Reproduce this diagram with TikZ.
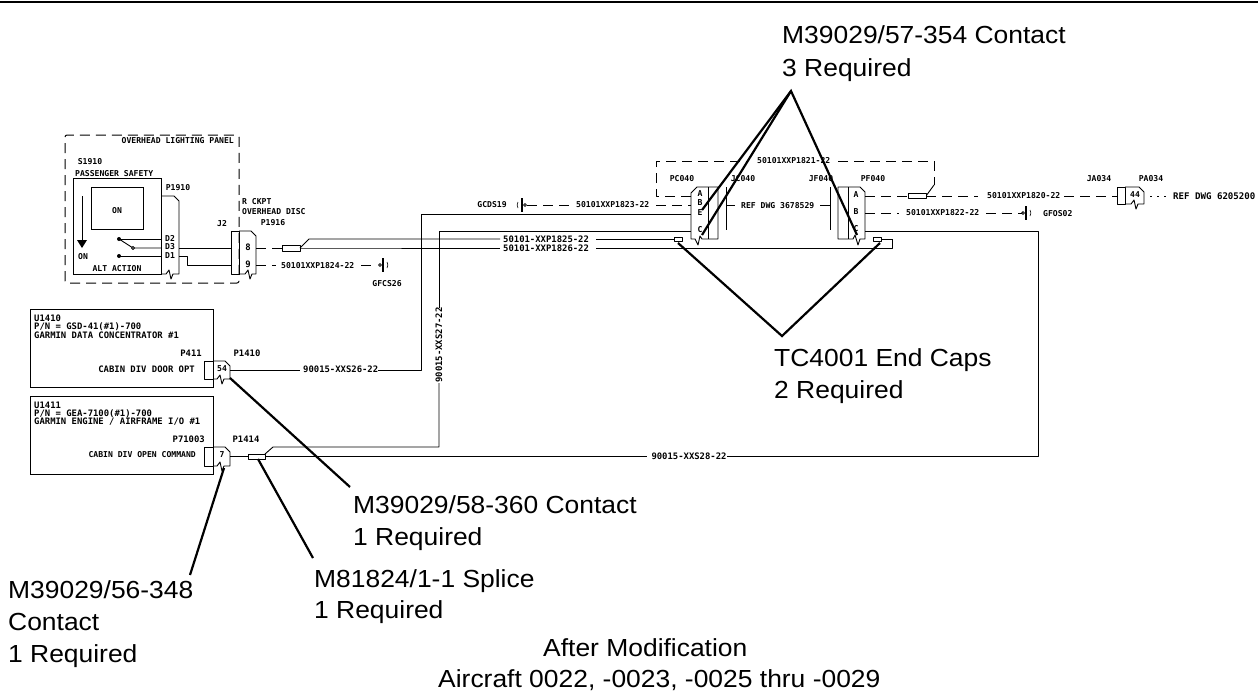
\documentclass[tikz,border=0pt]{standalone}
\usepackage{fontspec}
\setmainfont{Liberation Sans}
\newfontfamily\cadfont{DejaVu Sans Mono}
\newfontfamily\bigfont[FakeStretch=1.07]{Liberation Sans}
\tikzset{
  wire/.style={draw=black,line width=0.9pt,line join=round},
  dwire/.style={wire,line width=1pt,dash pattern=on 10pt off 6pt},
  frame/.style={draw=black,line width=0.9pt},
  callout/.style={draw=black,line width=2.2pt},
  big/.style={anchor=base west,inner sep=0pt,font=\bigfont\fontsize{24.7}{28}\selectfont},
  cad/.style={inner sep=0pt,font=\cadfont\bfseries\fontsize{8.1}{9}\selectfont},
  cadl/.style={inner sep=0pt,font=\cadfont\bfseries\fontsize{8.9}{10}\selectfont},
  cadx/.style={inner sep=0pt,font=\cadfont\bfseries\fontsize{9.1}{10}\selectfont},
}
\newcommand{\gndR}[2]{
  \draw[wire] (#1,#2) circle (1.4pt);
  \draw[line width=1.8pt] (#1+3,#2-7) -- (#1+3,#2+7);
  \draw[wire,line width=0.6pt] (#1+7,#2-3) to[bend left=30] (#1+7,#2+3);
}
\newcommand{\gndL}[2]{
  \draw[wire] (#1,#2) circle (1.4pt);
  \draw[line width=1.8pt] (#1-3,#2-7) -- (#1-3,#2+7);
  \draw[wire,line width=0.6pt] (#1-7,#2-3) to[bend right=30] (#1-7,#2+3);
}
\newcommand{\plugR}[5]{
  \draw[wire] (#1,#3) -- (#2-5,#3) -- (#2,#3+5) -- (#2,#4) -- (#5+7,#4) -- (#5+5,#4+5) -- (#5+3,#4-4) -- (#5,#4) -- (#1,#4);
}
\begin{document}
\begin{tikzpicture}[x=1pt,y=-1pt]
\useasboundingbox (0,0) rectangle (1258,694);
\fill[white] (0,0) rectangle (1258,694);
\draw[line width=2pt] (0,2) -- (1258,2);

%% ---- coordinates of wire ends
\coordinate (sD2) at (119,239); \coordinate (sD3) at (133,248); \coordinate (sD1) at (119,256);
\coordinate (pD2) at (161,239); \coordinate (pD3) at (161,248); \coordinate (pD1) at (161,256);
\coordinate (oD3) at (179,248); \coordinate (oD1) at (179,256);
\coordinate (j2a) at (231,248); \coordinate (j2b) at (231,265);
\coordinate (p8) at (256,248); \coordinate (p9) at (256,265);
\coordinate (spA) at (282,248); \coordinate (spAr) at (300,248);
\coordinate (capL1) at (674,239); \coordinate (capR) at (892,239);
\coordinate (apexT) at (791,91); \coordinate (apexC) at (782,336);
\coordinate (pinE) at (702,210); \coordinate (pinCl) at (702,235); \coordinate (pinCr) at (857,235);
\coordinate (tipCapL) at (678,243); \coordinate (tipCapR) at (880,243);

%% ---- overhead lighting panel
\draw[dwire,rounded corners=2pt] (65,283) -- (65,135) -- (239,135) -- (239,283) -- cycle;
\node[cad,anchor=east] (olp) at (234,141) {OVERHEAD LIGHTING PANEL};
\node[cad] (s1910) at (90,162) {S1910};
\node[cad,anchor=west] (pss) at (75,174) {PASSENGER SAFETY};
\draw[frame] (73,178) rectangle (161,274);
\draw[frame] (91,187) rectangle (143,229);
\node[cad] (onA) at (117,211) {ON};
\draw[wire] (82,196) -- (82,240);
\fill (77,240) -- (87,240) -- (82,248) -- cycle;
\node[cad] (onB) at (83,257) {ON};
\node[cad] (alt) at (117,269) {ALT ACTION};
\node[cad] (p1910) at (178,188) {P1910};
\plugR{161}{179}{196}{274}{166}
\node[cad] at (170,238) {D2};
\node[cad] at (170,247) {D3};
\node[cad] at (170,256) {D1};
\fill (sD2) circle (2pt); \fill (sD1) circle (2pt);
\draw[wire] (sD2) -- (pD2);
\draw[wire] (sD2) -- (sD3) -- (pD3);
\draw[wire] (sD1) -- (pD1);
\filldraw[fill=white,wire] (sD3) circle (1.6pt);
\draw[wire] (oD3) -- (j2a);
\draw[wire] (oD1) -- (187,256) -- (187,265) -- (j2b);

%% ---- J2 / P1916
\draw[wire] (231,231) rectangle (239,274);
\plugR{239}{256}{231}{274}{245}
\node[cad] (j2) at (222,224) {J2};
\node[cad,anchor=west] (rck) at (242,202) {R CKPT};
\node[cad,anchor=west] (odi) at (242,212) {OVERHEAD DISC};
\node[cad] (p1916) at (273,223) {P1916};
\node[cadl] at (248,247) {8};
\node[cadl] at (248,264) {9};
\draw[dwire] (p8) -- (spA);
\draw[wire,fill=white] (282,245) rectangle (300,251);
\draw[dwire] (p9) -- (276,265);
\node[cad,anchor=west] (w1824) at (281,266) {50101XXP1824-22};
\draw[dwire] (361,265) -- (377,265);
\gndR{380}{265}
\node[cad] (gfcs) at (387,284) {GFCS26};

%% ---- long wires from the splice
\draw[wire] (spAr) -- (309,239) -- (500,239);
\draw[wire] (spAr) -- (305,248) -- (500,248);
\node[cadl,anchor=west] (w1825) at (503,239) {50101-XXP1825-22};
\node[cadl,anchor=west] (w1826) at (503,248) {50101-XXP1826-22};
\draw[wire] (596,239) -- (capL1);
\draw[wire] (596,248) -- (892,248) -- (capR);
\draw[wire] (674,237) rectangle (682,241);
\draw[wire] (873,237) rectangle (881,241);
\draw[wire] (881,239) -- (capR);

%% ---- U1410
\draw[frame] (30,309) rectangle (213,387);
\node[cadl,anchor=west] (u1410) at (34,318) {U1410};
\node[cadl,anchor=west] (pn1) at (34,326.5) {P/N = GSD-41(\#1)-700};
\node[cadl,anchor=west] (gdc) at (34,335) {GARMIN DATA CONCENTRATOR \#1};
\node[cadl,anchor=east] (p411) at (202,353) {P411};
\node[cadl] (p1410) at (247,353) {P1410};
\node[cadl,anchor=east] (cddo) at (195,369) {CABIN DIV DOOR OPT};
\draw[wire] (204,361) rectangle (213,379);
\plugR{213}{230}{361}{379}{217}
\node[cad] at (222,369) {54};
\draw[wire] (230,370) -- (300,370);
\node[cadl,anchor=west] (w26) at (303,369) {90015-XXS26-22};
\draw[wire] (378,370) -- (421,370) -- (421,214) -- (691,214);

%% ---- U1411
\draw[frame] (30,396) rectangle (213,474);
\node[cadl,anchor=west] (u1411) at (34,405) {U1411};
\node[cadl,anchor=west] (pn2) at (34,413.5) {P/N = GEA-7100(\#1)-700};
\node[cadl,anchor=west] (geg) at (34,422) {GARMIN ENGINE / AIRFRAME I/O \#1};
\node[cadl,anchor=east] (p71) at (205,439) {P71003};
\node[cadl] (p1414) at (246,439) {P1414};
\node[cad,anchor=east] (cdoc) at (196,455) {CABIN DIV OPEN COMMAND};
\draw[wire] (204,447) rectangle (213,466);
\plugR{213}{230}{447}{466}{217}
\node[cad] at (222,455) {7};
\draw[wire] (230,456) -- (248,456);
\draw[wire,fill=white] (248,454) rectangle (265,459);
\draw[wire] (265,456) -- (647,456);
\node[cadl] (w28) at (689,456) {90015-XXS28-22};
\draw[wire] (727,456) -- (1038,456) -- (1038,231) -- (865,231);
\draw[wire] (265,454) -- (273,447) -- (439,447) -- (439,383);
\node[cadl,rotate=90] (w27) at (439,345) {90015-XXS27-22};
\draw[wire] (439,308) -- (439,231) -- (691,231);

%% ---- PC040 / JC040
\draw[dwire] (691,196) -- (656,196) -- (656,161) -- (747,161);
\node[cad,anchor=west] (w1821) at (757,161) {50101XXP1821-22};
\draw[dwire] (838,161) -- (934,161) -- (934,185);
\draw[wire] (934,185) -- (926,196);
\node[cad] (pc040) at (682,179) {PC040};
\node[cad] (jc040) at (743,179) {JC040};
\node[cad] (jf040) at (821,179) {JF040};
\node[cad] (pf040) at (873,179) {PF040};
\draw[wire] (691,193) -- (697,187) -- (718,187) -- (718,239) -- (702,239) -- (700,236) -- (698,245) -- (695,239) -- (691,239) -- cycle;
\draw[wire] (708,187) -- (708,239);
\node[cad] at (700,194) {A};
\node[cad] at (700,203) {B};
\node[cad] at (700,213) {E};
\node[cad] at (700,230) {C};
\draw[wire] (726,187) -- (726,230);
\draw[wire] (726,205) -- (735,205);
\node[cad,anchor=west] (ref1) at (741,206) {REF DWG 3678529};
\draw[wire] (820,205) -- (830,205);
\draw[wire] (830,187) -- (830,230);
\draw[wire] (838,187) -- (860,187) -- (865,192) -- (865,239) -- (860,239) -- (858,245) -- (855,235) -- (853,239) -- (838,239) -- cycle;
\draw[wire] (848,187) -- (848,239);
\node[cad] at (856,195) {A};
\node[cad] at (856,212) {B};
\node[cad] at (856,229) {C};
\node[cad] (gcds) at (492,205) {GCDS19};
\gndL{525}{205}
\draw[dwire] (527,205) -- (570,205);
\node[cad,anchor=west] (w1823) at (576,205) {50101XXP1823-22};
\draw[dwire] (656,205) -- (691,205);

%% ---- right side
\draw[dwire] (865,196) -- (908,196);
\draw[wire,fill=white] (908,193) rectangle (926,198);
\draw[dwire] (926,196) -- (978,196);
\node[cad,anchor=west] (w1820) at (987,196) {50101XXP1820-22};
\draw[dwire] (1064,196) -- (1117,196);
\draw[dwire] (865,213) -- (899,213);
\node[cad,anchor=west] (w1822) at (906,213) {50101XXP1822-22};
\draw[dwire] (986,213) -- (1022,213);
\gndR{1023}{213}
\node[cad,anchor=west] (gfos) at (1043,214) {GFOS02};
\node[cad] (ja034) at (1099,179) {JA034};
\node[cad] (pa034) at (1151,179) {PA034};
\draw[wire] (1117,187) rectangle (1125,204);
\plugR{1125}{1144}{187}{204}{1131}
\node[cad] at (1135,195) {44};
\draw[wire,dash pattern=on 2pt off 5pt] (1150,196) -- (1168,196);
\node[cadx,anchor=west] (ref2) at (1173,196) {REF DWG 6205200};

%% ---- callouts
\draw[callout] (pinE) -- (apexT) -- (pinCr);
\draw[callout] (pinCl) -- (apexT);
\draw[callout] (tipCapL) -- (apexC) -- (tipCapR);
\node[big] (t1) at (782,43) {M39029/57-354 Contact};
\node[big] (t2) at (782,76) {3 Required};
\node[big] (t3) at (774,366) {TC4001 End Caps};
\node[big] (t4) at (774,398) {2 Required};
\node[big] (t5) at (353,513) {M39029/58-360 Contact};
\node[big] (t6) at (353,545) {1 Required};
\node[big] (t7) at (314,587) {M81824/1-1 Splice};
\node[big] (t8) at (314,618) {1 Required};
\node[big] (t9) at (8,598) {M39029/56-348};
\node[big] (t10) at (8,630) {Contact};
\node[big] (t11) at (8,662) {1 Required};
\node[big] (t12) at (543,656) {After Modification};
\node[big] (t13) at (438,687) {Aircraft 0022, -0023, -0025 thru -0029};
\coordinate (a58) at (230,378); \coordinate (b58) at (350,487);
\coordinate (a56) at (224,468); \coordinate (b56) at (190,575);
\coordinate (aSp) at (258,459); \coordinate (bSp) at (313,558);
\draw[callout] (a58) -- (b58);
\draw[callout] (a56) -- (b56);
\draw[callout] (aSp) -- (bSp);
\end{tikzpicture}
\end{document}
